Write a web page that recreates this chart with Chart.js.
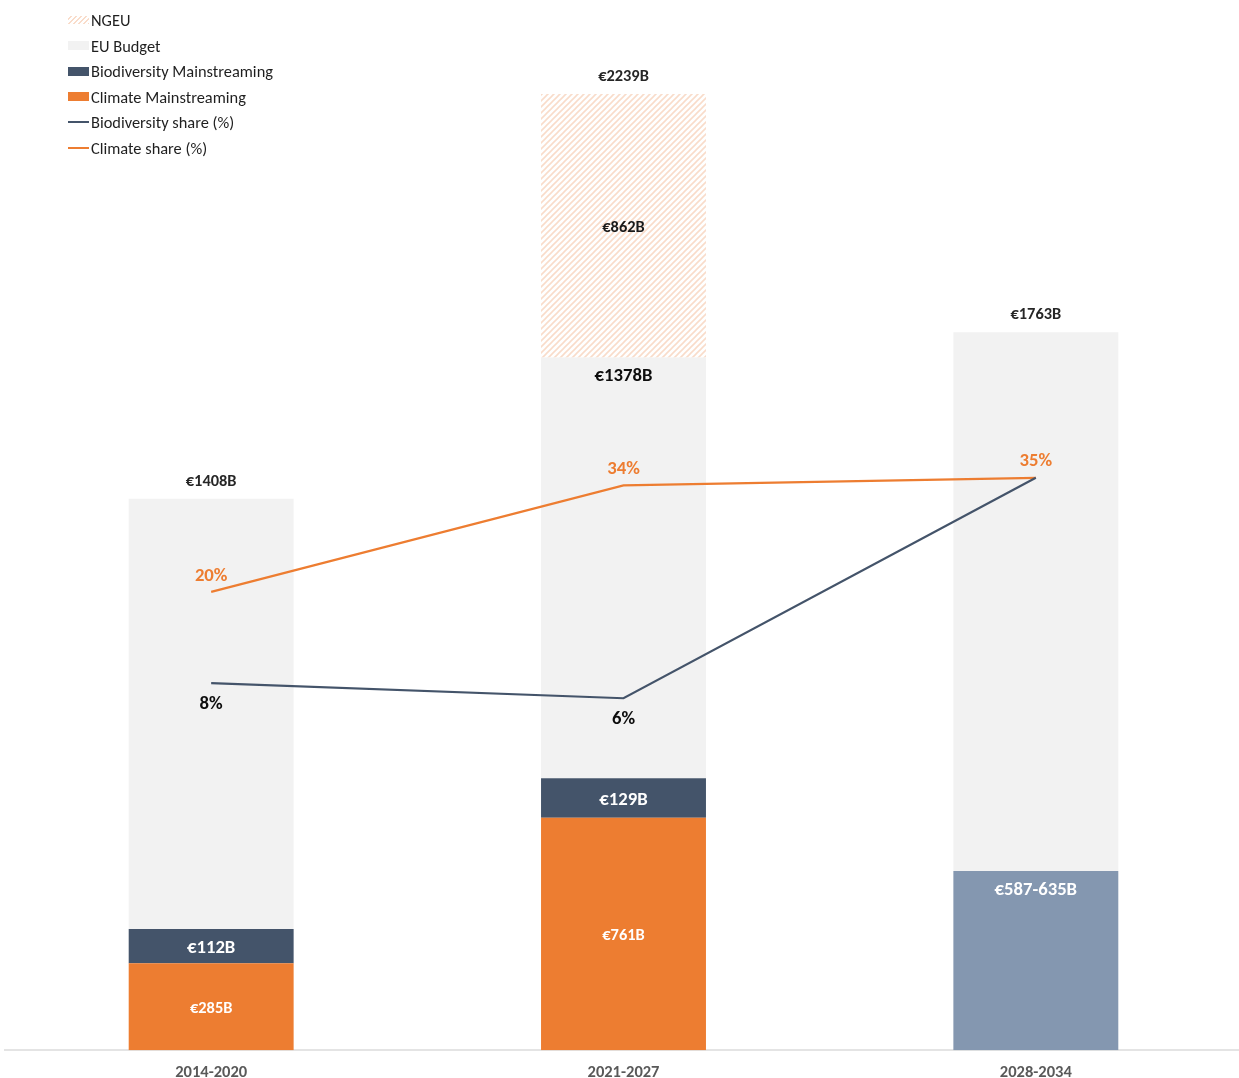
<!DOCTYPE html>
<html>
<head>
<meta charset="utf-8">
<script src="https://cdn.jsdelivr.net/npm/chart.js@4.4.1/dist/chart.umd.min.js"></script>
<style>
  html, body { margin: 0; padding: 0; background: #ffffff; overflow: hidden; }
  #wrap { position: absolute; left: 0; top: 0; width: 1244px; height: 1096px; }
  #legend { position: absolute; left: 68px; top: 0; font-family: Carlito, Lato, sans-serif; font-size: 16.4px; color: #1f1f1f; }
  .row { position: absolute; left: 0; height: 20px; display: flex; align-items: center; white-space: nowrap; }
  .sw { width: 21px; margin-right: 2px; flex: none; }
  .box { height: 9px; }
  .ln { height: 2px; }
  .hatch { height: 8px; background: repeating-linear-gradient(135deg, #ffffff 0px, #ffffff 2px, #f9dcca 2px, #f9dcca 3.5px); }
</style>
</head>
<body>
<div id="wrap"><canvas id="c"></canvas></div>
<div id="legend"></div>
<script>
// Periods on the category axis
const periods = ['2014-2020', '2021-2027', '2028-2034'];

// Spending (EUR billions) per stacked segment
const climateSpend = [285, 761, null];
const biodiversitySpend = [112, 129, null];
const combinedSpend = [null, null, 587];
const euBudget = [1408, 1378, 1763];
const ngeu = [null, 862, null];

// Totals printed above each column
const totals = [1408, 2239, 1763];
const combinedRangeLabel = '€587-635B';

// Shares of spending (%)
const biodiversityShare = [8, 6, 35];
const climateShare = [20, 34, 35];

const ORANGE = '#ED7D31';
const NAVY = '#44546A';
const STEEL = '#8497B0';
const LIGHT = '#F2F2F2';
const FONT = 'Carlito, Lato, sans-serif';

function hatchPattern() {
  const s = 6;
  const t = document.createElement('canvas');
  t.width = s; t.height = s;
  const g = t.getContext('2d');
  g.fillStyle = '#ffffff';
  g.fillRect(0, 0, s, s);
  g.strokeStyle = '#f9dcca';
  g.lineWidth = 1.6;
  g.beginPath();
  g.moveTo(0, s); g.lineTo(s, 0);
  g.moveTo(-1, 1); g.lineTo(1, -1);
  g.moveTo(s - 1, s + 1); g.lineTo(s + 1, s - 1);
  g.stroke();
  return g.createPattern(t, 'repeat');
}

const euro = v => '€' + v + 'B';

const valueLabels = {
  id: 'valueLabels',
  afterDatasetsDraw(chart) {
    const ctx = chart.ctx;
    const metaOf = i => chart.getDatasetMeta(i);
    ctx.save();
    ctx.textAlign = 'center';
    ctx.textBaseline = 'middle';
    const put = (txt, x, y, size, color) => {
      ctx.font = 'bold ' + size + 'px ' + FONT;
      ctx.fillStyle = color;
      ctx.fillText(txt, x, y + 2);
    };
    // segment labels
    periods.forEach((p, i) => {
      const cl = metaOf(0).data[i], bi = metaOf(1).data[i], co = metaOf(2).data[i];
      const eu = metaOf(3).data[i], ng = metaOf(4).data[i];
      if (climateSpend[i] != null) put(euro(climateSpend[i]), cl.x, (cl.y + cl.base) / 2, 16.4, '#ffffff');
      if (biodiversitySpend[i] != null) put(euro(biodiversitySpend[i]), bi.x, (bi.y + bi.base) / 2, 18.7, '#ffffff');
      if (combinedSpend[i] != null) put(combinedRangeLabel, co.x, co.y + 17, 18.7, '#ffffff');
      let top = eu.y;
      if (ngeu[i] != null) {
        put(euro(ngeu[i]), ng.x, (ng.y + ng.base) / 2, 16.4, '#1a1a1a');
        put(euro(euBudget[i]), eu.x, eu.y + 17, 18.7, '#0d0d0d');
        top = ng.y;
      }
      put(euro(totals[i]), eu.x, top - 19, 16.4, '#262626');
    });
    // share labels
    const bm = metaOf(5), cm = metaOf(6);
    climateShare.forEach((v, i) => {
      const pt = cm.data[i];
      put(v + '%', pt.x, pt.y - 18, 18.7, ORANGE);
    });
    biodiversityShare.forEach((v, i) => {
      if (i === 2) return; // shares coincide in the last period
      const pt = bm.data[i];
      put(v + '%', pt.x, pt.y + 19, 18.7, '#0d0d0d');
    });
    ctx.restore();
  }
};

const barCommon = { type: 'bar', stack: 'spend', order: 1, barPercentage: 0.4, categoryPercentage: 1, borderWidth: 0, yAxisID: 'y' };

new Chart(document.getElementById('c'), {
  data: {
    labels: periods,
    datasets: [
      Object.assign({ label: 'Climate Mainstreaming', data: climateSpend, backgroundColor: ORANGE }, barCommon),
      Object.assign({ label: 'Biodiversity Mainstreaming', data: biodiversitySpend, backgroundColor: NAVY }, barCommon),
      Object.assign({ label: 'Climate & Biodiversity', data: combinedSpend, backgroundColor: STEEL }, barCommon),
      Object.assign({ label: 'EU Budget', data: euBudget, backgroundColor: LIGHT }, barCommon),
      Object.assign({ label: 'NGEU', data: ngeu, backgroundColor: hatchPattern() }, barCommon),
      { type: 'line', label: 'Biodiversity share (%)', data: biodiversityShare, borderColor: NAVY, borderWidth: 2.2, pointRadius: 0, tension: 0, order: 0, yAxisID: 'y2' },
      { type: 'line', label: 'Climate share (%)', data: climateShare, borderColor: ORANGE, borderWidth: 2.2, pointRadius: 0, tension: 0, order: 0, yAxisID: 'y2' }
    ]
  },
  options: {
    responsive: true,
    maintainAspectRatio: false,
    animation: false,
    layout: { padding: { left: 5, right: 2, top: 0, bottom: 0 } },
    plugins: { legend: { display: false }, tooltip: { enabled: false } },
    scales: {
      x: {
        stacked: true,
        grid: { display: false, drawTicks: false },
        border: { display: true, color: '#E4E4E4', width: 2 },
        ticks: { padding: 13, color: '#595959', font: { family: FONT, size: 16.5, weight: 'bold' } }
      },
      y: { stacked: true, display: false, min: 0, max: 3438 },
      y2: { display: false, min: -40.3, max: 97.86 }
    }
  },
  plugins: [valueLabels]
});

// Legend overlay
const legendItems = [
  { text: 'NGEU', cls: 'hatch', color: null },
  { text: 'EU Budget', cls: 'box', color: LIGHT },
  { text: 'Biodiversity Mainstreaming', cls: 'box', color: NAVY },
  { text: 'Climate Mainstreaming', cls: 'box', color: ORANGE },
  { text: 'Biodiversity share (%)', cls: 'ln', color: NAVY },
  { text: 'Climate share (%)', cls: 'ln', color: ORANGE }
];
const legendEl = document.getElementById('legend');
legendItems.forEach((it, i) => {
  const row = document.createElement('div');
  row.className = 'row';
  row.style.top = (10 + i * 25.6) + 'px';
  const sw = document.createElement('span');
  sw.className = 'sw ' + it.cls;
  if (it.color) sw.style.background = it.color;
  const tx = document.createElement('span');
  tx.textContent = it.text;
  row.appendChild(sw);
  row.appendChild(tx);
  legendEl.appendChild(row);
});
</script>
</body>
</html>
